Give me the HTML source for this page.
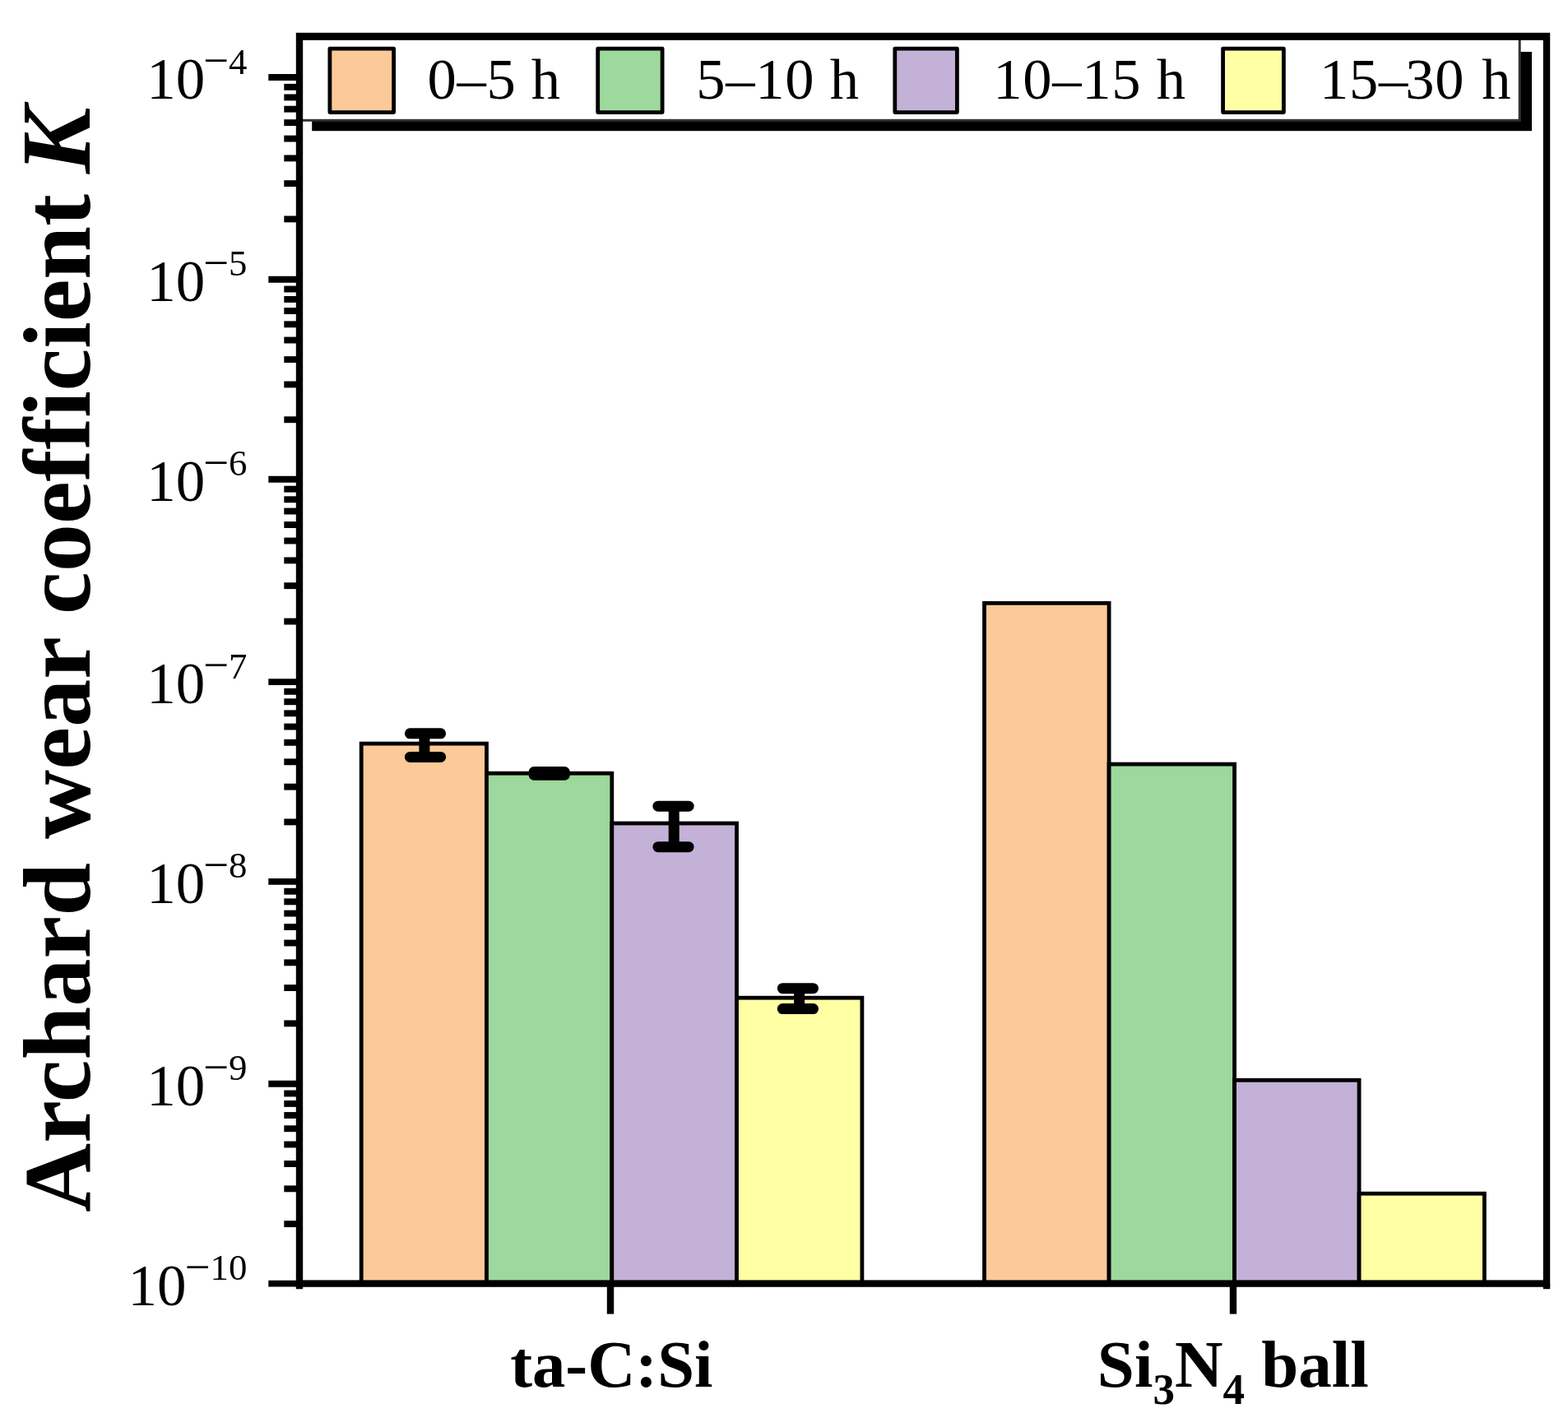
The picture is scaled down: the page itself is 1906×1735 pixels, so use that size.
<!DOCTYPE html>
<html lang="en">
<head>
<meta charset="utf-8">
<title>Archard wear coefficient K</title>
<style>
html,body{margin:0;padding:0;background:#fff;}
body{width:1906px;height:1735px;overflow:hidden;}
svg{display:block;position:absolute;left:0;top:0;}
text{white-space:pre;}
</style>
</head>
<body>
<svg width="1906" height="1735" viewBox="0 0 1906 1735">
<rect x="0" y="0" width="1906" height="1735" fill="#fff"/>
<g stroke="#000" stroke-width="4.80" stroke-linejoin="miter">
<rect x="439.20" y="904.10" width="152.30" height="656.50" fill="#fcc998"/>
<rect x="591.50" y="940.20" width="152.30" height="620.40" fill="#9dd89d"/>
<rect x="743.80" y="1001.00" width="151.70" height="559.60" fill="#c3b1d7"/>
<rect x="895.50" y="1213.20" width="152.40" height="347.40" fill="#ffffa4"/>
<rect x="1196.50" y="733.30" width="151.60" height="827.30" fill="#fcc998"/>
<rect x="1348.10" y="929.10" width="152.50" height="631.50" fill="#9dd89d"/>
<rect x="1500.60" y="1313.30" width="151.50" height="247.30" fill="#c3b1d7"/>
<rect x="1652.10" y="1451.20" width="152.30" height="109.40" fill="#ffffa4"/>
</g>
<g stroke="#000" stroke-linecap="round" fill="none" stroke-width="13">
<line x1="515.90" y1="891.80" x2="515.90" y2="920.40" stroke-linecap="butt"/>
<line x1="498.40" y1="891.80" x2="535.60" y2="891.80"/>
<line x1="498.40" y1="920.40" x2="535.60" y2="920.40"/>
<line x1="667.70" y1="938.60" x2="667.70" y2="942.20" stroke-linecap="butt"/>
<line x1="649.10" y1="938.60" x2="686.30" y2="938.60"/>
<line x1="649.10" y1="942.20" x2="686.30" y2="942.20"/>
<line x1="819.20" y1="980.20" x2="819.20" y2="1029.70" stroke-linecap="butt"/>
<line x1="799.90" y1="980.20" x2="837.10" y2="980.20"/>
<line x1="799.90" y1="1029.70" x2="837.10" y2="1029.70"/>
<line x1="971.60" y1="1201.70" x2="971.60" y2="1226.60" stroke-linecap="butt"/>
<line x1="951.30" y1="1201.70" x2="988.50" y2="1201.70"/>
<line x1="951.30" y1="1226.60" x2="988.50" y2="1226.60"/>
</g>
<rect x="379.2" y="63" width="1482.80" height="96.20" fill="#000"/>
<rect x="364.00" y="44.00" width="1483.20" height="102.30" fill="#fff" stroke="#333" stroke-width="3"/>
<rect x="400.90" y="59.20" width="77.70" height="77.40" fill="#fcc998" stroke="#000" stroke-width="4.8" stroke-linejoin="round"/>
<rect x="726.70" y="59.20" width="78.40" height="77.40" fill="#9dd89d" stroke="#000" stroke-width="4.8" stroke-linejoin="round"/>
<rect x="1087.80" y="59.20" width="75.60" height="77.40" fill="#c3b1d7" stroke="#000" stroke-width="4.8" stroke-linejoin="round"/>
<rect x="1486.60" y="59.20" width="73.80" height="77.40" fill="#ffffa4" stroke="#000" stroke-width="4.8" stroke-linejoin="round"/>
<g font-family="'Liberation Serif', 'DejaVu Serif', serif" font-size="70.6" letter-spacing="0.7" fill="#000">
<text x="519.50" y="119.7">0–5 h</text>
<text x="846.30" y="119.7">5–10 h</text>
<text x="1207.30" y="119.7">10–15 h</text>
<text x="1604.00" y="119.7">15–<tspan dx="-3.8">30</tspan><tspan dx="2.8"> h</tspan></text>
</g>
<rect x="364.00" y="44.00" width="1516.00" height="1516.60" fill="none" stroke="#000" stroke-width="8.4"/>
<path d="M364.00 1560.60V1567.20M1880.00 1560.60V1567.20" fill="none" stroke="#000" stroke-width="8.4"/>
<rect x="364.00" y="47.70" width="1516.00" height="1.1" fill="#000"/>
<g stroke="#000" stroke-width="7.90">
<line x1="326.30" y1="94.00" x2="360.30" y2="94.00"/>
<line x1="345.30" y1="266.41" x2="360.30" y2="266.41"/>
<line x1="345.30" y1="223.12" x2="360.30" y2="223.12"/>
<line x1="345.30" y1="192.41" x2="360.30" y2="192.41"/>
<line x1="345.30" y1="168.59" x2="360.30" y2="168.59"/>
<line x1="345.30" y1="149.13" x2="360.30" y2="149.13"/>
<line x1="345.30" y1="132.67" x2="360.30" y2="132.67"/>
<line x1="345.30" y1="118.42" x2="360.30" y2="118.42"/>
<line x1="345.30" y1="105.85" x2="360.30" y2="105.85"/>
<line x1="326.30" y1="339.80" x2="360.30" y2="339.80"/>
<line x1="345.30" y1="510.25" x2="360.30" y2="510.25"/>
<line x1="345.30" y1="467.46" x2="360.30" y2="467.46"/>
<line x1="345.30" y1="437.10" x2="360.30" y2="437.10"/>
<line x1="345.30" y1="413.55" x2="360.30" y2="413.55"/>
<line x1="345.30" y1="394.31" x2="360.30" y2="394.31"/>
<line x1="345.30" y1="378.04" x2="360.30" y2="378.04"/>
<line x1="345.30" y1="363.95" x2="360.30" y2="363.95"/>
<line x1="345.30" y1="351.52" x2="360.30" y2="351.52"/>
<line x1="326.30" y1="582.80" x2="360.30" y2="582.80"/>
<line x1="345.30" y1="755.56" x2="360.30" y2="755.56"/>
<line x1="345.30" y1="712.19" x2="360.30" y2="712.19"/>
<line x1="345.30" y1="681.41" x2="360.30" y2="681.41"/>
<line x1="345.30" y1="657.54" x2="360.30" y2="657.54"/>
<line x1="345.30" y1="638.04" x2="360.30" y2="638.04"/>
<line x1="345.30" y1="621.55" x2="360.30" y2="621.55"/>
<line x1="345.30" y1="607.27" x2="360.30" y2="607.27"/>
<line x1="345.30" y1="594.67" x2="360.30" y2="594.67"/>
<line x1="326.30" y1="829.10" x2="360.30" y2="829.10"/>
<line x1="345.30" y1="999.41" x2="360.30" y2="999.41"/>
<line x1="345.30" y1="956.65" x2="360.30" y2="956.65"/>
<line x1="345.30" y1="926.32" x2="360.30" y2="926.32"/>
<line x1="345.30" y1="902.79" x2="360.30" y2="902.79"/>
<line x1="345.30" y1="883.56" x2="360.30" y2="883.56"/>
<line x1="345.30" y1="867.31" x2="360.30" y2="867.31"/>
<line x1="345.30" y1="853.23" x2="360.30" y2="853.23"/>
<line x1="345.30" y1="840.81" x2="360.30" y2="840.81"/>
<line x1="326.30" y1="1071.90" x2="360.30" y2="1071.90"/>
<line x1="345.30" y1="1244.38" x2="360.30" y2="1244.38"/>
<line x1="345.30" y1="1201.08" x2="360.30" y2="1201.08"/>
<line x1="345.30" y1="1170.35" x2="360.30" y2="1170.35"/>
<line x1="345.30" y1="1146.52" x2="360.30" y2="1146.52"/>
<line x1="345.30" y1="1127.05" x2="360.30" y2="1127.05"/>
<line x1="345.30" y1="1110.59" x2="360.30" y2="1110.59"/>
<line x1="345.30" y1="1096.33" x2="360.30" y2="1096.33"/>
<line x1="345.30" y1="1083.75" x2="360.30" y2="1083.75"/>
<line x1="326.30" y1="1317.80" x2="360.30" y2="1317.80"/>
<line x1="345.30" y1="1488.11" x2="360.30" y2="1488.11"/>
<line x1="345.30" y1="1445.35" x2="360.30" y2="1445.35"/>
<line x1="345.30" y1="1415.02" x2="360.30" y2="1415.02"/>
<line x1="345.30" y1="1391.49" x2="360.30" y2="1391.49"/>
<line x1="345.30" y1="1372.26" x2="360.30" y2="1372.26"/>
<line x1="345.30" y1="1356.01" x2="360.30" y2="1356.01"/>
<line x1="345.30" y1="1341.93" x2="360.30" y2="1341.93"/>
<line x1="345.30" y1="1329.51" x2="360.30" y2="1329.51"/>
<line x1="326.30" y1="1560.60" x2="360.30" y2="1560.60"/>
</g>
<g stroke="#000" stroke-width="8.40">
<line x1="742.00" y1="1560.60" x2="742.00" y2="1597.60"/>
<line x1="1499.00" y1="1560.60" x2="1499.00" y2="1597.60"/>
</g>
<g font-family="'Liberation Serif', 'DejaVu Serif', serif" fill="#000" text-anchor="end">
<text x="300.4" y="120.00" font-size="71">10<tspan font-size="55" dx="-2.4" dy="-27.9">−</tspan><tspan font-size="44.8" dy="-2.6">4</tspan></text>
<text x="300.4" y="365.80" font-size="71">10<tspan font-size="55" dx="-2.4" dy="-27.9">−</tspan><tspan font-size="44.8" dy="-2.6">5</tspan></text>
<text x="300.4" y="608.80" font-size="71">10<tspan font-size="55" dx="-2.4" dy="-27.9">−</tspan><tspan font-size="44.8" dy="-2.6">6</tspan></text>
<text x="300.4" y="855.10" font-size="71">10<tspan font-size="55" dx="-2.4" dy="-27.9">−</tspan><tspan font-size="44.8" dy="-2.6">7</tspan></text>
<text x="300.4" y="1097.90" font-size="71">10<tspan font-size="55" dx="-2.4" dy="-27.9">−</tspan><tspan font-size="44.8" dy="-2.6">8</tspan></text>
<text x="300.4" y="1343.80" font-size="71">10<tspan font-size="55" dx="-2.4" dy="-27.9">−</tspan><tspan font-size="44.8" dy="-2.6">9</tspan></text>
<text x="300.4" y="1586.60" font-size="71">10<tspan font-size="55" dx="-2.0" dy="-27.9">−</tspan><tspan font-size="44.8" dy="-2.6">10</tspan></text>
</g>
<g font-family="'Liberation Serif', 'DejaVu Serif', serif" font-weight="bold" fill="#000" font-size="80.6">
<text x="743.3" y="1686.0" text-anchor="middle">ta-C:Si</text>
<text x="1498.8" y="1686.2" text-anchor="middle" font-size="81">Si<tspan font-size="53" dy="20.5">3</tspan><tspan dy="-20.5">N</tspan><tspan font-size="53" dy="20.5">4</tspan><tspan dy="-20.5"> ball</tspan></text>
</g>
<text transform="translate(108.5 1474) rotate(-90)" font-family="'Liberation Serif', 'DejaVu Serif', serif" font-weight="bold" font-size="116.5" fill="#000">Archard wear coefficient <tspan font-style="italic" font-size="121" dx="-4">K</tspan></text>
</svg>
</body>
</html>
